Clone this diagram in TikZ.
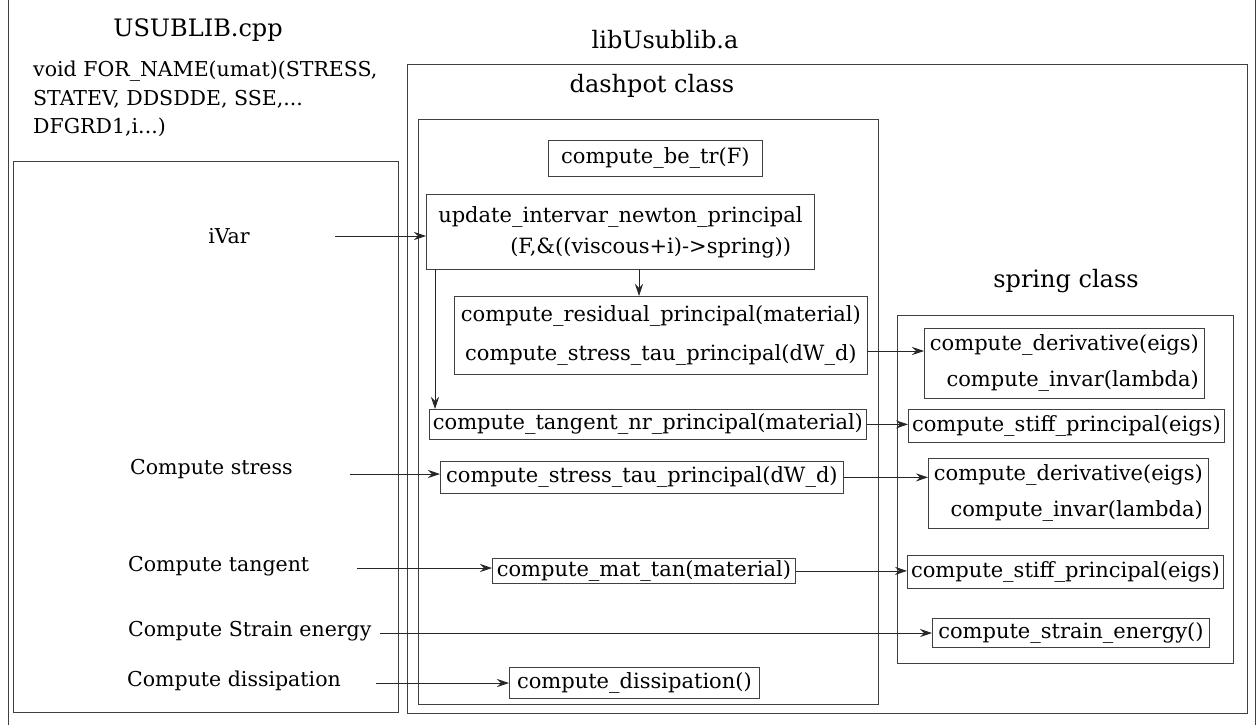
\documentclass[tikz,border=0pt]{standalone}
\usepackage{fontspec}
\setmainfont{DejaVu Serif}
\usetikzlibrary{arrows.meta}
\newcommand{\fsm}{\fontsize{21}{25}\selectfont}
\newcommand{\flb}{\fontsize{20.5}{25}\selectfont}
\newcommand{\fbig}{\fontsize{24}{28}\selectfont}
\tikzset{
  frame/.style={draw=black!75, line width=0.8pt},
  fnbox/.style={draw=black!75, line width=0.8pt, anchor=north west, inner sep=0pt, font=\fsm, align=center},
  lbl/.style={font=\flb, inner sep=0pt},
  ttl/.style={font=\fbig, inner sep=0pt},
  arr/.style={-{Stealth[length=12pt,width=8pt,inset=4pt]}, line width=0.8pt, draw=black!85},
  ln/.style={line width=0.7pt, draw=black!85}
}
\begin{document}
\begin{tikzpicture}[x=1pt,y=-1pt]
\useasboundingbox (0,0) rectangle (1258,725);
% outer frame
\draw[frame] (8,-5) -- (8,730);
\draw[frame] (1255,-5) -- (1255,730);
% containers
\draw[frame] (13,161) rectangle (398,712);
\draw[frame] (407,64) rectangle (1247,713);
\draw[frame] (418,119) rectangle (878,704);
\draw[frame] (897,315) rectangle (1233,663);
% titles
\node[ttl] (tusub) at (198,30) {USUBLIB.cpp};
\node[lbl, anchor=north west, align=left, font=\fontsize{20.5}{28.5}\selectfont] (tsig) at (33,61) {void FOR\_NAME(umat)(STRESS,\\STATEV, DDSDDE, SSE,...\\DFGRD1,i...)};
\node[ttl] (tlib) at (665,40) {libUsublib.a};
\node[ttl] (tdash) at (652,86) {dashpot class};
\node[ttl] (tspring) at (1066,281) {spring class};
% dashpot boxes
\node[fnbox, minimum width=214pt, minimum height=36pt] (betr) at (548,140) {compute\_be\_tr(F)};
\node[fnbox, minimum width=388pt, minimum height=75pt, align=left] (upd) at (426,194) {update\_intervar\_newton\_principal\\[6pt]\hspace*{72pt}(F,\&((viscous+i)->spring))};
\node[fnbox, minimum width=413pt, minimum height=78pt] (resid) at (454,296) {compute\_residual\_principal(material)\\[14pt]compute\_stress\_tau\_principal(dW\_d)};
\node[fnbox, minimum width=437pt, minimum height=30pt] (tnr) at (429,409) {compute\_tangent\_nr\_principal(material)};
\node[fnbox, minimum width=403pt, minimum height=32pt] (stau) at (440,461) {compute\_stress\_tau\_principal(dW\_d)};
\node[fnbox, minimum width=303pt, minimum height=25pt] (mtan) at (492,558) {compute\_mat\_tan(material)};
\node[fnbox, minimum width=250pt, minimum height=31pt] (diss) at (509,667) {compute\_dissipation()};
% spring boxes
\node[fnbox, minimum width=280pt, minimum height=70pt, align=right] (der1) at (924,328) {compute\_derivative(eigs)\\[11pt]compute\_invar(lambda)};
\node[fnbox, minimum width=316pt, minimum height=33pt] (stf1) at (908,409) {compute\_stiff\_principal(eigs)};
\node[fnbox, minimum width=280pt, minimum height=70pt, align=right] (der2) at (928,458) {compute\_derivative(eigs)\\[11pt]compute\_invar(lambda)};
\node[fnbox, minimum width=316pt, minimum height=33pt] (stf2) at (907,555) {compute\_stiff\_principal(eigs)};
\node[fnbox, minimum width=277pt, minimum height=29pt] (sen) at (932,618) {compute\_strain\_energy()};
% left labels
\node[lbl] (ivar) at (229,236) {iVar};
\node[lbl, anchor=west] (cstress) at (130,469) {Compute stress};
\node[lbl, anchor=west] (ctan) at (128,566) {Compute tangent};
\node[lbl, anchor=west] (cse) at (128,631) {Compute Strain energy};
\node[lbl, anchor=west] (cdiss) at (127,681) {Compute dissipation};
% free ends
\coordinate (s1) at (335,236);
\coordinate (s2) at (350,474);
\coordinate (s3) at (357,568);
\coordinate (s4) at (380,633);
\coordinate (s5) at (376,683);
\coordinate (d1) at (639,269);
\coordinate (d2) at (435,269);
\coordinate (r1) at (867,351);
% connectors
\draw[arr] (s1) -- (s1 -| upd.west);
\draw[arr] (s2) -- (s2 -| stau.west);
\draw[arr] (s3) -- (s3 -| mtan.west);
\draw[arr] (s4) -- (s4 -| sen.west);
\draw[arr] (s5) -- (s5 -| diss.west);
\draw[arr] (d1) -- (d1 |- resid.north);
\draw[arr] (d2) -- (d2 |- tnr.north);
\draw[arr] (r1) -- (r1 -| der1.west);
\draw[arr] (tnr.east) -- (tnr.east -| stf1.west);
\draw[arr] (stau.east) -- (stau.east -| der2.west);
\draw[arr] (mtan.east) -- (mtan.east -| stf2.west);
\end{tikzpicture}
\end{document}
